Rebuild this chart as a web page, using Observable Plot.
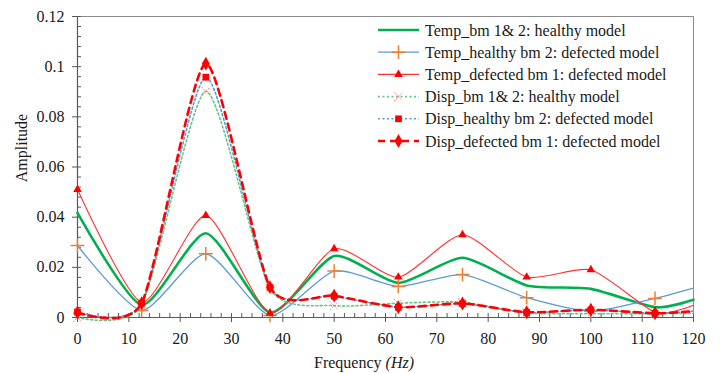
<!DOCTYPE html>
<html><head><meta charset="utf-8">
<script src="https://cdn.jsdelivr.net/npm/d3@7"></script>
<script src="https://cdn.jsdelivr.net/npm/@observablehq/plot@0.6"></script>
<style>
body{margin:0;background:#fff;}
#chart{width:720px;height:373px;}
#chart svg, #chart svg text, #chart svg tspan{font-family:"Liberation Serif","DejaVu Serif",serif !important;}
</style></head><body><div id="chart"></div>
<script>
// Frequency samples (Hz); the last one is where the curves meet the frame
const freq = [0, 12.5, 25, 37.5, 50, 62.5, 75, 87.5, 100, 112.5, 120];
const markerCount = 10; // markers drawn only on the 12.5 Hz samples

const tempBm12Healthy   = [0.0417, 0.0050, 0.0336, 0.0020, 0.0245, 0.0138, 0.0238, 0.0128, 0.0114, 0.0041, 0.0071];
const tempHealthyBm2    = [0.0287, 0.0028, 0.0254, 0.0008, 0.0185, 0.0124, 0.0171, 0.0079, 0.0025, 0.0076, 0.0117];
const tempDefectedBm1   = [0.0510, 0.0060, 0.0407, 0.0017, 0.0274, 0.0161, 0.0330, 0.0161, 0.0190, 0.0021, 0.0049];
const dispBm12Healthy   = [0.0000, 0.0050, 0.0902, 0.0115, 0.0047, 0.0057, 0.0061, 0.0018, 0.0015, 0.0015, 0.0017];
const dispHealthyBm2    = [0.0022, 0.0057, 0.0958, 0.0120, 0.0085, 0.0041, 0.0055, 0.0020, 0.0030, 0.0017, 0.0025];
const dispDefectedBm1   = [0.0020, 0.0057, 0.1012, 0.0121, 0.0087, 0.0041, 0.0056, 0.0021, 0.0031, 0.0017, 0.0025];

const seriesNames = [
  "Temp_bm 1& 2: healthy model",
  "Temp_healthy bm 2: defected model",
  "Temp_defected bm 1: defected model",
  "Disp_bm 1& 2: healthy model",
  "Disp_healthy bm 2: defected model",
  "Disp_defected bm 1: defected model"
];
const seriesValues = [tempBm12Healthy, tempHealthyBm2, tempDefectedBm1, dispBm12Healthy, dispHealthyBm2, dispDefectedBm1];

const yTicks = [0, 0.02, 0.04, 0.06, 0.08, 0.1, 0.12];
const yTickLabels = ["0", "0.02", "0.04", "0.06", "0.08", "0.1", "0.12"];
const yMinorTicks = d3.range(0, 31).map(i => +(i * 0.004).toFixed(3));
const xTicks = [0, 10, 20, 30, 40, 50, 60, 70, 80, 90, 100, 110, 120];
const xTickLabels = ["0", "10", "20", "30", "40", "50", "60", "70", "80", "90", "100", "110", "120"];
const xMinorTicks = d3.range(0, 61).map(i => i * 2);

// styles per series
const styles = [
  {stroke: "#00b050", width: 2.6, dash: null, symbol: null},
  {stroke: "#5b9bd5", width: 1.3, dash: null, symbol: "plus", mfill: "none", mstroke: "#ed7d31", r: 4.5, mw: 1.5},
  {stroke: "#ff3030", width: 1.1, dash: null, symbol: "triangle", mfill: "#ff0000", mstroke: "none", r: 3.2},
  {stroke: "#6cc38a", width: 1.6, dash: "2,2.5", symbol: "times", mfill: "none", mstroke: "#ff7070", r: 4, mw: 1, mdash: "1.5,1.5"},
  {stroke: "#5b9bd5", width: 1.6, dash: "2,2.5", symbol: "square", mfill: "#ff0000", mstroke: "none", r: 3.8},
  {stroke: "#ff0000", width: 2.6, dash: "7,5", symbol: "diamond", mfill: "#ff0000", mstroke: "none", r: 4.2}
];

const rows = [];
seriesValues.forEach((vals, s) => vals.forEach((v, i) => rows.push({x: freq[i], y: v, s, marker: i < markerCount})));

const marks = [
  Plot.frame({stroke: "#8c8c8c"}),
  Plot.axisY({ticks: yMinorTicks, tickSize: 4, dx: 4, text: null, label: null, stroke: "#595959"}),
  Plot.axisY({ticks: yTicks, tickSize: 5, tickPadding: 8, tickFormat: (d, i) => yTickLabels[i], label: null, stroke: "#595959", fill: "#1a1a1a"}),
  Plot.axisX({ticks: xMinorTicks, tickSize: 4, dy: -4, text: null, label: null, stroke: "#595959"}),
  Plot.axisX({ticks: xTicks, tickSize: 5, tickPadding: 10, tickFormat: (d, i) => xTickLabels[i], label: null, stroke: "#595959", fill: "#1a1a1a"}),
  Plot.ruleY([0], {stroke: "#595959", strokeWidth: 1.2}),
  Plot.ruleX([0], {stroke: "#595959", strokeWidth: 1.2})
];
styles.forEach((st, s) => {
  const data = rows.filter(d => d.s === s);
  marks.push(Plot.line(data, {x: "x", y: "y", curve: "cardinal", tension: 0.35, stroke: st.stroke, strokeWidth: st.width, strokeDasharray: st.dash}));
  if (st.symbol) {
    marks.push(Plot.dot(data.filter(d => d.marker), {x: "x", y: "y", symbol: () => st.symbol, r: st.r,
      fill: st.mfill, stroke: st.mstroke, strokeWidth: st.mw || 1, strokeDasharray: st.mdash || null}));
  }
});

const chart = Plot.plot({
  width: 720, height: 373,
  marginLeft: 77, marginRight: 27, marginTop: 16, marginBottom: 56,
  x: {domain: [0, 120]},
  y: {domain: [0, 0.12]},
  symbol: {type: "identity"},
  style: {fontSize: "16px", color: "#1a1a1a", background: "#fff"},
  marks
});
document.getElementById("chart").appendChild(chart);

const svg = d3.select(chart);
// axis titles
svg.append("text").attr("transform", "translate(27,148) rotate(-90)")
  .attr("text-anchor", "middle").attr("font-size", 16).attr("fill", "#1a1a1a").text("Amplitude");
const xt = svg.append("text").attr("x", 364).attr("y", 368).attr("text-anchor", "middle")
  .attr("font-size", 16).attr("fill", "#1a1a1a");
xt.append("tspan").text("Frequency ");
xt.append("tspan").attr("font-style", "italic").text("(Hz)");

// legend
const symMap = {plus: d3.symbolPlus, triangle: d3.symbolTriangle, times: d3.symbolTimes, square: d3.symbolSquare, diamond: d3.symbolDiamond};
const lg = svg.append("g").attr("font-size", 16).attr("fill", "#1a1a1a").attr("text-anchor", "start");
seriesNames.forEach((name, i) => {
  const st = styles[i];
  const y = 30 + i * 22.2;
  lg.append("line").attr("x1", 378).attr("x2", 419).attr("y1", y).attr("y2", y)
    .attr("stroke", st.stroke).attr("stroke-width", st.width).attr("stroke-dasharray", st.dash);
  if (st.symbol) {
    lg.append("path").attr("transform", `translate(398.5,${y})`)
      .attr("d", d3.symbol(symMap[st.symbol], Math.PI * st.r * st.r)())
      .attr("fill", st.mfill).attr("stroke", st.mstroke).attr("stroke-width", st.mw || 1)
      .attr("stroke-dasharray", st.mdash || null);
  }
  lg.append("text").attr("x", 425).attr("y", y).attr("dy", "0.35em").attr("text-anchor", "start").text(name);
});
</script></body></html>
